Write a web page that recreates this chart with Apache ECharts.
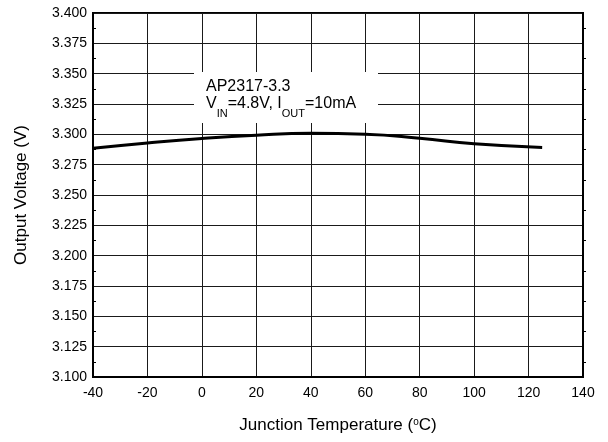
<!DOCTYPE html>
<html><head><meta charset="utf-8">
<script src="https://cdn.jsdelivr.net/npm/echarts@6/dist/echarts.min.js"></script>
<style>html,body{margin:0;padding:0;background:#fff}#c{width:608px;height:442px}</style>
</head><body><div id="c"></div>
<script>
const temps = [-40, -20, 0, 20, 40, 60, 80, 100, 125];
const volts = [3.2885, 3.2929, 3.2966, 3.2993, 3.3008, 3.3001, 3.2968, 3.2922, 3.2892];
const xRange = [-40, 140, 20];
const yRange = [3.100, 3.400, 0.025];
const xTitle = 'Junction Temperature ({sup|o}C)';
const yTitle = 'Output Voltage (V)';
const noteLine1 = 'AP2317-3.3';
const noteLine2 = '{m|V}{sub|IN}{m|=4.8V, I}{sub|OUT}{m|=10mA}';

const FONT = 'Liberation Sans, Arial, sans-serif';
const chart = echarts.init(document.getElementById('c'), null, {renderer: 'canvas'});
const yAxisBase = {
  type: 'value', min: yRange[0], max: yRange[1], interval: yRange[2],
  axisLine: {show: true, onZero: false, lineStyle: {color: '#000', width: 2}},
  axisTick: {show: false},
  splitLine: {show: false}
};
chart.setOption({
  animation: false,
  backgroundColor: '#fff',
  grid: {left: 93, right: 25, top: 13, bottom: 65, show: true, borderColor: '#000', borderWidth: 2, containLabel: false},
  xAxis: {
    type: 'value', min: xRange[0], max: xRange[1], interval: xRange[2],
    axisLine: {show: true, onZero: false, lineStyle: {color: '#000', width: 2}},
    axisTick: {show: false},
    splitLine: {show: true, lineStyle: {color: '#1a1a1a', width: 1}},
    axisLabel: {fontFamily: FONT, fontSize: 14, color: '#000', margin: 9},
    name: xTitle, nameLocation: 'middle', nameGap: 40,
    nameTextStyle: {fontFamily: FONT, fontSize: 17, color: '#000',
      rich: {sup: {fontFamily: FONT, fontSize: 10, color: '#000', verticalAlign: 'top', lineHeight: 10}}}
  },
  yAxis: [
    Object.assign({}, yAxisBase, {
      position: 'left',
      minorTick: {show: true, splitNumber: 2, length: -3, lineStyle: {color: '#000', width: 1}},
      splitLine: {show: true, lineStyle: {color: '#1a1a1a', width: 1}},
      axisLabel: {fontFamily: FONT, fontSize: 14, color: '#000', margin: 6,
        formatter: v => v.toFixed(3)},
      name: yTitle, nameLocation: 'middle', nameGap: 63, nameRotate: 90,
      nameTextStyle: {fontFamily: FONT, fontSize: 17, color: '#000'}
    }),
    Object.assign({}, yAxisBase, {
      position: 'right',
      minorTick: {show: true, splitNumber: 2, length: 3, lineStyle: {color: '#000', width: 1}},
      axisLabel: {show: false}
    })
  ],
  series: [{
    type: 'line', smooth: 0.5, showSymbol: false, symbol: 'none',
    data: temps.map((t, i) => [t, volts[i]]),
    lineStyle: {color: '#000', width: 3},
    z: 5
  }],
  graphic: [
    {type: 'rect', left: 194, top: 72, shape: {width: 184, height: 51}, style: {fill: '#fff'}, z: 10},
    {type: 'text', left: 206, top: 79, z: 11,
      style: {text: noteLine1, font: '16px ' + FONT, fill: '#000'}},
    {type: 'text', left: 206, top: 96, z: 11,
      style: {text: noteLine2, font: '16px ' + FONT, fill: '#000',
        rich: {
          m: {fontSize: 16, fontFamily: FONT, fill: '#000', verticalAlign: 'top', lineHeight: 16},
          sub: {fontSize: 11, fontFamily: FONT, fill: '#000', verticalAlign: 'top', lineHeight: 11, padding: [12, 0, 0, 0]}
        }}}
  ]
});
</script></body></html>
